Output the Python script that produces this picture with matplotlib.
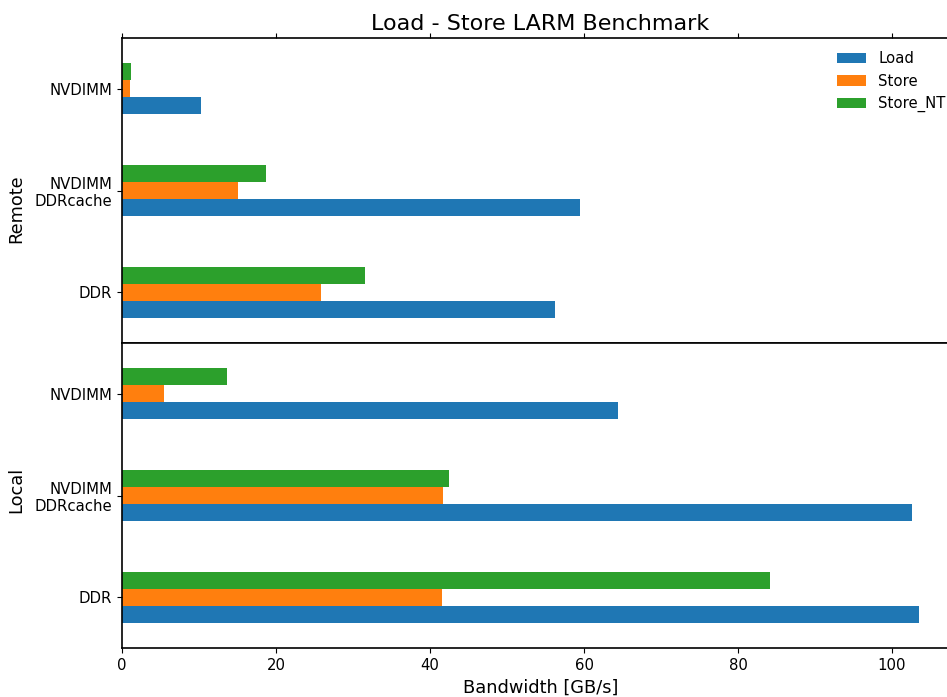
import matplotlib.pyplot as plt
import numpy as np

categories = ["DDR", "NVDIMM\nDDRcache", "NVDIMM"]
series = ["Load", "Store", "Store_NT"]
colors = ["#1f77b4", "#ff7f0e", "#2ca02c"]

# values per category in order DDR, DDRcache, NVDIMM
remote_load = [56.2, 59.5, 10.3]
remote_store = [25.8, 15.1, 1.0]
remote_store_nt = [31.6, 18.7, 1.2]

local_load = [103.5, 102.6, 64.4]
local_store = [41.5, 41.7, 5.4]
local_store_nt = [84.2, 42.5, 13.6]

fig = plt.figure(figsize=(9.47, 6.97), dpi=100)
ax_top = fig.add_axes([122/947, 1-343/697, (959-122)/947, 305/697])
ax_bot = fig.add_axes([122/947, 1-648/697, (959-122)/947, 305/697], sharex=ax_top)

y = np.arange(len(categories))
w = 0.5 / 3


def draw(ax, vals):
    for i, (name, v) in enumerate(zip(series, vals)):
        ax.barh(y + (i - 1) * w, v, height=w, color=colors[i], label=name)
    ax.set_yticks(y)
    ax.set_yticklabels(categories, fontsize=10.7)
    ax.set_ylim(-0.5, 2.5)
    ax.spines["right"].set_visible(False)
    for s in ax.spines.values():
        s.set_linewidth(1.2)


draw(ax_top, [remote_load, remote_store, remote_store_nt])
draw(ax_bot, [local_load, local_store, local_store_nt])

ax_top.xaxis.tick_top()
ax_top.tick_params(axis="x", labeltop=False, labelbottom=False)
ax_bot.tick_params(axis="x", labelsize=10.7)
ax_bot.set_xlim(0, 108.7)

ax_top.set_title("Load - Store LARM Benchmark", fontsize=16, pad=6)
ax_top.set_ylabel("Remote", fontsize=12.8)
ax_bot.set_ylabel("Local", fontsize=12.8)
ax_bot.set_xlabel("Bandwidth [GB/s]", fontsize=12.8)
ax_top.yaxis.set_label_coords(-0.116, 0.439)
ax_bot.yaxis.set_label_coords(-0.116, 0.518)

ax_top.legend(loc="upper right", frameon=False, fontsize=10.7)

fig.savefig("out.png", dpi=100)
